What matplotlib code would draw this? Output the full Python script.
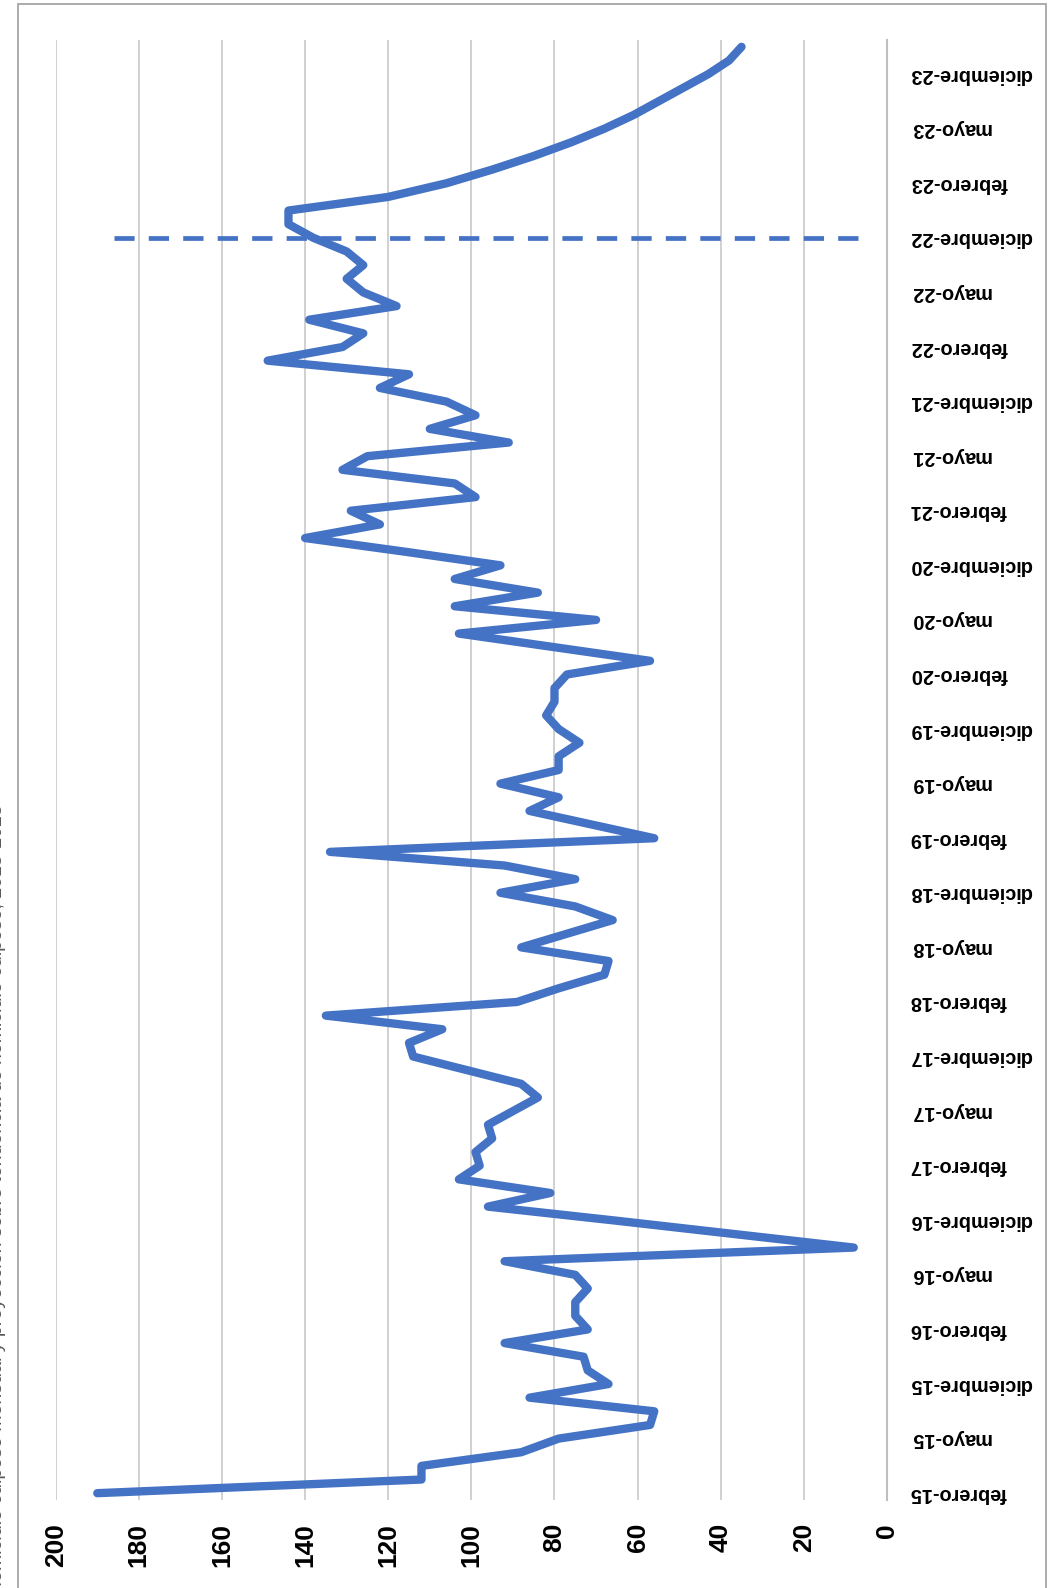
import matplotlib
matplotlib.use("Agg")
import matplotlib.pyplot as plt
from matplotlib.patches import Rectangle

plt.rcParams["font.family"] = ["Liberation Sans", "DejaVu Sans"]

# Monthly series (historical values followed by the trend projection)
values = [
    190, 112, 112, 88, 79, 57, 56, 86, 67, 72, 73, 92, 72, 75, 75, 72, 75, 92,
    8, 37, 66, 96, 81, 103, 98, 99, 95, 96, 90, 84, 88, 101, 114, 115, 107,
    135, 89, 79, 68, 67, 88, 77, 66, 75, 93, 75, 92, 134, 56, 71, 86, 79, 93,
    79, 79, 74, 79, 82, 80, 80, 77, 57, 80, 103, 70, 104, 84, 104, 93, 116,
    140, 122, 129, 99, 104, 131, 125, 91, 110, 99, 106, 122, 115, 149, 131,
    126, 139, 118, 126, 130, 126, 130, 138, 144, 144,
    120, 106, 95, 85, 76, 68, 61, 55, 49, 43, 38, 35,
]

# Category labels shown on the axis (one every four periods)
tick_labels = [
    "febrero-15", "mayo-15", "diciembre-15",
    "febrero-16", "mayo-16", "diciembre-16",
    "febrero-17", "mayo-17", "diciembre-17",
    "febrero-18", "mayo-18", "diciembre-18",
    "febrero-19", "mayo-19", "diciembre-19",
    "febrero-20", "mayo-20", "diciembre-20",
    "febrero-21", "mayo-21", "diciembre-21",
    "febrero-22", "mayo-22", "diciembre-22",
    "febrero-23", "mayo-23", "diciembre-23",
]
label_step = 4

# Dashed marker separating observed data from the projection
marker_category = "diciembre-22"
marker_span = [7, 186]

value_ticks = list(range(0, 201, 20))

title = ("Homicidio culposo mensual y proyección sobre tendencia de "
         "homicidio culposo, 2015-2023")

W, H, DPI = 1049, 1588, 100
fig = plt.figure(figsize=(W / DPI, H / DPI), dpi=DPI)
fig.patch.set_facecolor("white")

# Chart-area border
fig.patches.append(Rectangle((17.5 / W, -0.05), (1045.5 - 17.5) / W,
                             1.05 - 4 / H, transform=fig.transFigure,
                             fill=False, edgecolor="#ABABAB", lw=1.4))

ax = fig.add_axes([55.7 / W, 1 - 1500 / H, (887 - 55.7) / W, (1500 - 40) / H])

blue = "#4472C4"
idx = list(range(len(values)))
ax.plot(values, idx, color=blue, lw=6.0, solid_joinstyle="round",
        solid_capstyle="round", zorder=3)

mpos = tick_labels.index(marker_category) * label_step
ax.plot(marker_span, [mpos, mpos], color=blue, lw=3.4, dashes=(4.3, 3.0),
        dash_capstyle="butt", zorder=3)

ax.set_xlim(200, 0)
ax.set_ylim(-0.5, len(values) - 0.5)

ax.set_xticks(value_ticks)
ax.set_xticklabels([str(v) for v in value_ticks], rotation=90,
                   fontsize=19, fontweight="bold")
ax.xaxis.grid(True, color="#D0D0D0", lw=1.4)
ax.set_axisbelow(True)

ax.set_yticks([i * label_step for i in range(len(tick_labels))])
ax.set_yticklabels(tick_labels, rotation=180, fontsize=14.3,
                   fontweight="bold", va="center")
ax.yaxis.tick_right()

ax.tick_params(axis="x", length=0, pad=16.5)
ax.tick_params(axis="y", length=0, pad=16.5)

for side in ("left", "top", "bottom"):
    ax.spines[side].set_visible(False)
ax.spines["right"].set_color("#BFBFBF")
ax.spines["right"].set_linewidth(1.5)

fig.text(-2 / W, 1 - 1200 / H, title, rotation=90, fontsize=14,
         color="#595959", ha="center", va="center")

fig.savefig("out.png", dpi=DPI)
